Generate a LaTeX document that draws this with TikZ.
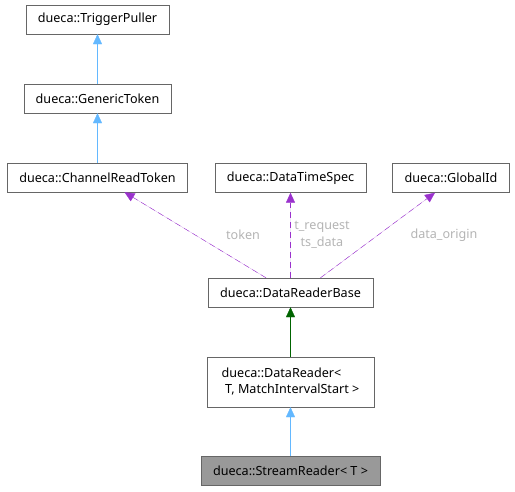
\documentclass[tikz,border=0pt]{standalone}
\usepackage{fontspec}
\setmainfont{Noto Sans}
\usetikzlibrary{arrows.meta}
\definecolor{boxline}{HTML}{666666}
\definecolor{boxfill}{HTML}{999999}
\definecolor{inhblue}{HTML}{63B8FF}
\definecolor{inhgreen}{HTML}{006400}
\definecolor{usepurple}{HTML}{9A32CD}
\definecolor{lblgrey}{HTML}{B4B4B4}
\tikzset{
  cls/.style={draw=boxline, fill=white, minimum height=29pt, inner xsep=12pt,
    font=\fontsize{12.6}{16}\selectfont},
  clscur/.style={cls, fill=boxfill},
  inh/.style={draw=inhblue, -{Triangle[length=10pt,width=9pt]}, fill=inhblue},
  inhpriv/.style={draw=inhgreen, -{Triangle[length=10pt,width=9pt]}, fill=inhgreen},
  usage/.style={draw=usepurple, dash pattern=on 6pt off 4pt,
    -{Triangle[length=10pt,width=9pt]}, fill=usepurple},
  lbl/.style={text=lblgrey, font=\fontsize{12.6}{17}\selectfont, inner sep=1pt}
}
\begin{document}
\begin{tikzpicture}[x=1pt,y=-1pt]
  \useasboundingbox (0,0) rectangle (515,491);
  % classes
  \node[cls] (tp)  at (97.5,19.5)  {dueca::TriggerPuller};
  \node[cls] (gt)  at (97.5,98.5)  {dueca::GenericToken};
  \node[cls] (crt) at (97.5,177.5) {dueca::ChannelReadToken};
  \node[cls] (dts) at (290.5,178)  {dueca::DataTimeSpec};
  \node[cls] (gid) at (451,178)    {dueca::GlobalId};
  \node[cls] (drb) at (290.5,292.5) {dueca::DataReaderBase};
  \node[cls, align=left, minimum height=50pt, minimum width=167pt] (dr) at (290.5,382)
    {dueca::DataReader\textless\\\hspace*{3.5pt}T, MatchIntervalStart \textgreater};
  \node[clscur] (sr) at (290.5,470.5) {dueca::StreamReader\textless{} T \textgreater};
  % inheritance
  \draw[inh] (gt) -- (tp);
  \draw[inh] (crt) -- (gt);
  \draw[inhpriv] (dr) -- (drb);
  \draw[inh] (sr) -- (dr);
  % usage
  \draw[usage] ([xshift=-24.5pt]drb.north) -- ([xshift=27pt]crt.south);
  \node[lbl] (ltok) at (243,235) {token};
  \draw[usage] (drb) -- (dts);
  \node[lbl, align=center] (lts) at (322,235) {t\_request\\ts\_data};
  \draw[usage] ([xshift=30pt]drb.north) -- ([xshift=-16pt]gid.south);
  \node[lbl] (lorg) at (444,235) {data\_origin};
\end{tikzpicture}
\end{document}
